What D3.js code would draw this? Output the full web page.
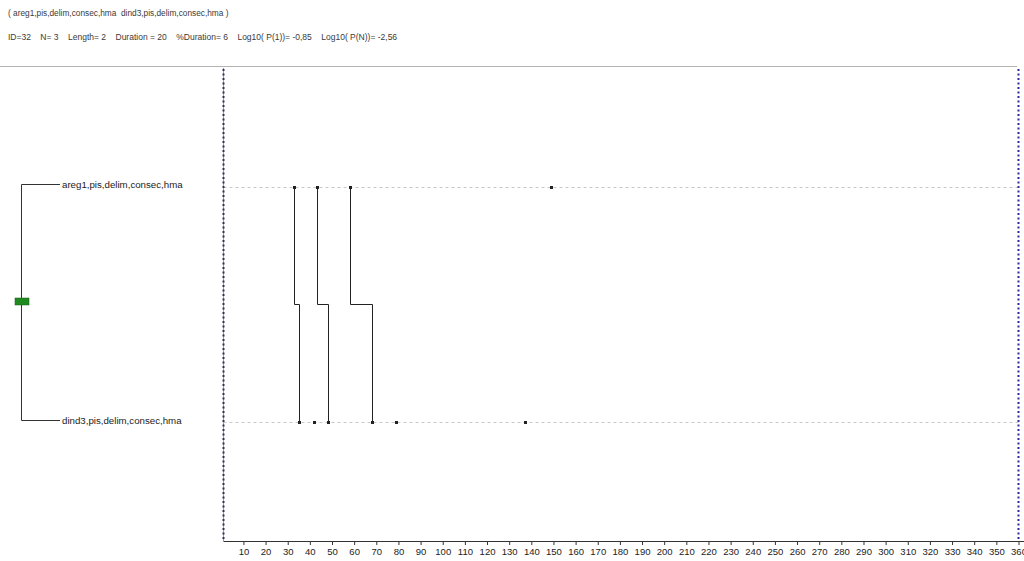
<!DOCTYPE html>
<html>
<head>
<meta charset="utf-8">
<script src="https://cdn.jsdelivr.net/npm/d3@7"></script>
<style>
  html, body { margin: 0; padding: 0; background: #fff; }
  svg { display: block; font-family: "Liberation Sans", Arial, sans-serif; }
</style>
</head>
<body>
<svg id="chart" width="1024" height="561"></svg>
<script>
// Pattern: areg1 -> dind3, event times on a 1..360 time line
const rows = ["areg1,pis,delim,consec,hma", "dind3,pis,delim,consec,hma"];
const aregEvents = [33, 43, 58, 149];
const dindEvents = [35, 42, 48, 68, 79, 137];
const occurrences = [[33, 35], [43, 48], [58, 68]];
const tickValues = d3.range(10, 361, 10);
const timeDomain = [1, 360];
const headerLine1 = "( areg1,pis,delim,consec,hma  dind3,pis,delim,consec,hma )";
const headerLine2 = "ID=32    N= 3    Length= 2    Duration = 20    %Duration= 6    Log10( P(1))= -0,85    Log10( P(N))= -2,56";

const svg = d3.select("#chart");

const x = d3.scaleLinear().domain(timeDomain).range([223.5, 1018.5]);
const y = d3.scalePoint().domain(rows).range([187, 422]);
const plotTop = 67, plotBottom = 541;

// Header texts
svg.append("text").attr("x", 8).attr("y", 16)
  .attr("font-size", 8.3).attr("fill", "#3a3a3a").attr("xml:space", "preserve")
  .text(headerLine1);
svg.append("text").attr("x", 8).attr("y", 40)
  .attr("font-size", 8.5).attr("fill", "#3a3a3a").attr("xml:space", "preserve")
  .text(headerLine2);

// Separator under header
svg.append("line").attr("x1", 0).attr("x2", 1017).attr("y1", 66.5).attr("y2", 66.5)
  .attr("stroke", "#b4b4b4").attr("stroke-width", 1);

// Row guide lines
svg.append("g").selectAll("line").data(rows).join("line")
  .attr("x1", x(timeDomain[0])).attr("x2", x(timeDomain[1]))
  .attr("y1", d => y(d) + 0.5).attr("y2", d => y(d) + 0.5)
  .attr("stroke", "#c8c8c8").attr("stroke-dasharray", "3,3");

// Boundary lines at start and end of the time line
svg.append("line")
  .attr("x1", x(timeDomain[0])).attr("x2", x(timeDomain[0]))
  .attr("y1", plotTop + 1).attr("y2", plotBottom)
  .attr("stroke", "#9a9aa8").attr("stroke-width", 1);
svg.append("g").selectAll("line").data(timeDomain).join("line")
  .attr("x1", d => x(d)).attr("x2", d => x(d))
  .attr("y1", plotTop + 2).attr("y2", plotBottom)
  .attr("stroke", (d, i) => i === 0 ? "#2e2e5c" : "#2a2aa0")
  .attr("stroke-width", 2).attr("stroke-dasharray", "2,2.5");

// Bottom axis
const axis = d3.axisBottom(x).tickValues(tickValues).tickSize(4).tickPadding(3).tickFormat(d3.format("d"));
const gAxis = svg.append("g").attr("transform", `translate(0,${plotBottom})`).call(axis);
gAxis.select(".domain").attr("d", `M${x(timeDomain[0])},0.5H1024`).attr("stroke", "#333");
gAxis.selectAll(".tick line").attr("stroke", "#333");
gAxis.selectAll(".tick text").attr("font-size", 9.5).attr("fill", "#222")
  .attr("font-family", "'Liberation Sans', Arial, sans-serif");

// Occurrence connectors: down from first event, across at mid height, down to second event
const midY = (y(rows[0]) + y(rows[1])) / 2;
svg.append("g").selectAll("path").data(occurrences).join("path")
  .attr("d", d => `M${Math.round(x(d[0])) + 0.5},${y(rows[0])}V${midY}H${Math.round(x(d[1])) + 0.5}V${y(rows[1])}`)
  .attr("fill", "none").attr("stroke", "#222").attr("stroke-width", 1);

// Event markers
function drawEvents(values, row) {
  svg.append("g").selectAll("rect").data(values).join("rect")
    .attr("x", d => Math.round(x(d)) - 1).attr("y", y(row) - 1)
    .attr("width", 3).attr("height", 3).attr("fill", "#222");
}
drawEvents(aregEvents, rows[0]);
drawEvents(dindEvents, rows[1]);

// Dendrogram on the left
const treeX = 21.5, stubEnd = 60;
svg.append("path")
  .attr("d", `M${stubEnd},${y(rows[0]) - 2.5}H${treeX}V${y(rows[1]) - 1.5}H${stubEnd}`)
  .attr("fill", "none").attr("stroke", "#333").attr("stroke-width", 1);
svg.append("rect").attr("x", 15).attr("y", 298).attr("width", 14).attr("height", 7)
  .attr("fill", "#1f8a1f").attr("stroke", "#145c14").attr("stroke-width", 0.5);

svg.append("g").selectAll("text").data(rows).join("text")
  .attr("x", 62).attr("y", (d, i) => i === 0 ? y(d) - 2 : y(d) - 1)
  .attr("dy", "0.35em").attr("font-size", 9.7).attr("fill", "#222")
  .text(d => d);
</script>
</body>
</html>
